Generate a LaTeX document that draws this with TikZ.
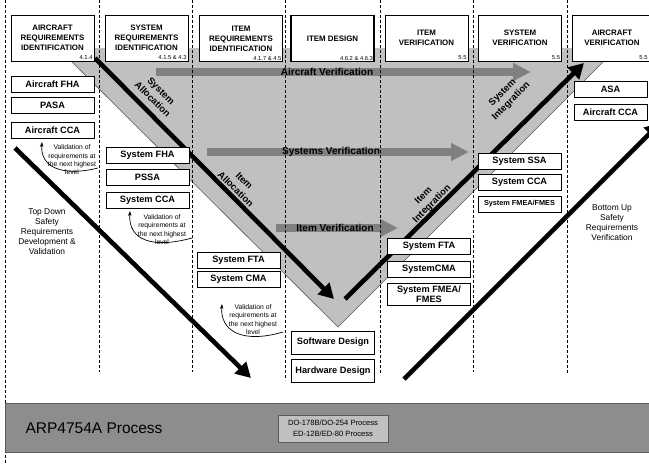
\documentclass[tikz,border=0pt]{standalone}
\usepackage{fontspec}
\setmainfont{Liberation Sans}
\usetikzlibrary{arrows.meta, positioning}
\definecolor{vgrey}{RGB}{192,192,192}
\definecolor{arrowgrey}{RGB}{128,128,128}
\definecolor{bargrey}{RGB}{141,141,141}
\definecolor{edgegrey}{RGB}{90,90,90}

\begin{document}
\begin{tikzpicture}[x=1pt, y=-1pt,
    phase/.style={draw, fill=white, minimum width=83pt, minimum height=46pt, align=center, inner sep=1pt, font=\bfseries\fontsize{7.9}{10}\selectfont},
    secno/.style={anchor=south east, inner sep=1.5pt, font=\fontsize{5.8}{6}\selectfont},
    safety/.style={draw, fill=white, minimum width=83pt, minimum height=16pt, inner sep=1pt, align=center, font=\bfseries\fontsize{9.2}{10.5}\selectfont},
    note/.style={align=center, inner sep=0pt, font=\fontsize{6.8}{8.3}\selectfont},
    column/.style={dash pattern=on 3pt off 2pt, line width=0.9pt},
    flow/.style={line width=4.6pt, -{Triangle[length=15pt, width=16pt]}},
    verif/.style={line width=8pt, arrowgrey, -{Triangle[length=18pt, width=17pt]}},
    verifl/.style={font=\bfseries\fontsize{10}{12}\selectfont},
    phasel/.style={align=center, font=\bfseries\fontsize{9.5}{12}\selectfont},
    side/.style={align=center, font=\fontsize{8.4}{10}\selectfont},
    back/.style={-{Stealth[length=5pt, width=3.5pt]}, line width=0.7pt}
]
\useasboundingbox (0,0) rectangle (649,464);

% the V
\fill[vgrey] (58,48) -- (617,48) -- (338,327) -- cycle;
\draw[edgegrey, line width=0.6pt] (58,48) -- (338,327) -- (617,48);

% verification arrows
\coordinate (av0) at (156,72);
\coordinate (av1) at (531,72);
\coordinate (sv0) at (207,152);
\coordinate (sv1) at (469,152);
\coordinate (iv0) at (276,228);
\coordinate (iv1) at (398,228);
\draw[verif] (av0) -- (av1);
\draw[verif] (sv0) -- (sv1);
\draw[verif] (iv0) -- (iv1);

% column borders
\draw[column] (5,0) -- (5,464);
\foreach \x/\y in {99/372, 192/372, 285/380, 380/375, 473/372, 567/374}
    \draw[column] (\x,0) -- (\x,\y);

\node[verifl] (avl) at (327,72) {Aircraft Verification};
\node[verifl] (svl) at (331,152) {Systems Verification};
\node[verifl] (ivl) at (335,228) {Item Verification};

% labels along the V
\node[phasel, rotate=-45] (salloc) at (157,95) {System\\Allocation};
\node[phasel, rotate=-45] (ialloc) at (240,185) {Item\\Allocation};
\node[phasel, rotate=45] (sinteg) at (507,97) {System\\Integration};
\node[phasel, rotate=45] (iinteg) at (428,200) {Item\\Integration};

% big arrows
\coordinate (al0) at (95,58);
\coordinate (al1) at (334,299);
\coordinate (in0) at (345,299);
\coordinate (in1) at (584,63);
\coordinate (td0) at (15,148);
\coordinate (td1) at (251,378);
\coordinate (bu0) at (404,379);
\coordinate (bu1) at (660,123);
\draw[flow] (al0) -- (al1);
\draw[flow] (in0) -- (in1);
\draw[flow] (td0) -- (td1);
\draw[flow] (bu0) -- (bu1);

% phase headers
\node[phase] (arid) at (52.5,38) {AIRCRAFT\\REQUIREMENTS\\IDENTIFICATION};
\node[secno] (aridn) at (arid.south east) {4.1.4};
\node[phase] (srid) at (146.5,38) {SYSTEM\\REQUIREMENTS\\IDENTIFICATION};
\node[secno] (sridn) at (srid.south east) {4.1.5 \& 4.3};
\node[phase, line width=1.3pt] (irid) at (241,38.5) {ITEM\\REQUIREMENTS\\IDENTIFICATION};
\node[secno] (iridn) at (irid.south east) {4.1.7 \& 4.5};
\node[phase, line width=1.3pt] (idsn) at (332.5,38.5) {ITEM DESIGN};
\node[secno] (idsnn) at (idsn.south east) {4.6.2 \& 4.6.3};
\node[phase] (ivrf) at (426.5,38) {ITEM\\VERIFICATION};
\node[secno] (ivrfn) at (ivrf.south east) {5.5};
\node[phase] (svrf) at (520,38) {SYSTEM\\VERIFICATION};
\node[secno] (svrfn) at (svrf.south east) {5.5};
\node[phase, minimum width=80pt] (avrf) at (612,38) {AIRCRAFT\\VERIFICATION};
\node[secno, xshift=-3pt] (avrfn) at (avrf.south east) {5.5};

% safety assessments
\node[safety] (afha) at (52.5,84.5) {Aircraft FHA};
\node[safety] (pasa) at (52.5,105.5) {PASA};
\node[safety] (acca) at (52.5,130.5) {Aircraft CCA};
\node[safety] (sfha) at (147.5,155) {System FHA};
\node[safety] (pssa) at (147.5,177) {PSSA};
\node[safety] (scca) at (147.5,200.5) {System CCA};
\node[safety] (sfta) at (238.5,260) {System FTA};
\node[safety] (scma) at (238.5,279.5) {System CMA};
\node[safety, minimum height=23pt] (swd) at (333,342.5) {Software Design};
\node[safety, minimum height=23pt] (hwd) at (333,371) {Hardware Design};
\node[safety] (ifta) at (429,246.5) {System FTA};
\node[safety] (icma) at (429,269.5) {SystemCMA};
\node[safety, minimum height=22pt, font=\bfseries\fontsize{9.2}{9.5}\selectfont] (ifmea) at (429,294) {System FMEA/\\FMES};
\node[safety] (sssa) at (519.5,161) {System SSA};
\node[safety] (vcca) at (519.5,182.5) {System CCA};
\node[safety, font=\bfseries\fontsize{7.3}{8}\selectfont] (sfmea) at (519.5,204) {System FMEA/FMES};
\node[safety, minimum width=73pt] (asa) at (610.5,89) {ASA};
\node[safety, minimum width=73pt] (vacca) at (610.5,112.5) {Aircraft CCA};

% validation notes
\node[note] (val1) at (72,160) {Validation of\\requirements at\\the next highest\\level};
\coordinate (v1a) at (98,168);
\coordinate (v1b) at (42,142);
\draw[back] (v1a) .. controls (62,177) and (40,167) .. (v1b);
\node[note] (val2) at (162,229.5) {Validation of\\requirements at\\the next highest\\level};
\coordinate (v2a) at (192,238);
\coordinate (v2b) at (130,211);
\draw[back] (v2a) .. controls (152,249) and (128,240) .. (v2b);
\node[note] (val3) at (253,319.5) {Validation of\\requirements at\\the next highest\\level};
\coordinate (v3a) at (283,332);
\coordinate (v3b) at (222,304);
\draw[back] (v3a) .. controls (242,344) and (220,331) .. (v3b);

\node[side] (tdown) at (47,232) {Top Down\\Safety\\Requirements\\Development \&\\Validation};
\node[side] (bup) at (612,223) {Bottom Up\\Safety\\Requirements\\Verification};

% process bar
\node[draw=edgegrey, fill=bargrey, line width=0.8pt, minimum width=652pt, minimum height=49pt, anchor=north west, inner sep=0pt] (bar) at (5,403) {};
\node[anchor=west, font=\fontsize{15.5}{18}\selectfont] (arp) at (22,428) {ARP4754A Process};
\node[draw=edgegrey, fill=vgrey, minimum width=110pt, minimum height=27pt, inner sep=1pt, align=center, font=\fontsize{7.6}{10.5}\selectfont] (docs) at (333,428.5) {DO-178B/DO-254 Process\\ED-12B/ED-80 Process};
\end{tikzpicture}
\end{document}
